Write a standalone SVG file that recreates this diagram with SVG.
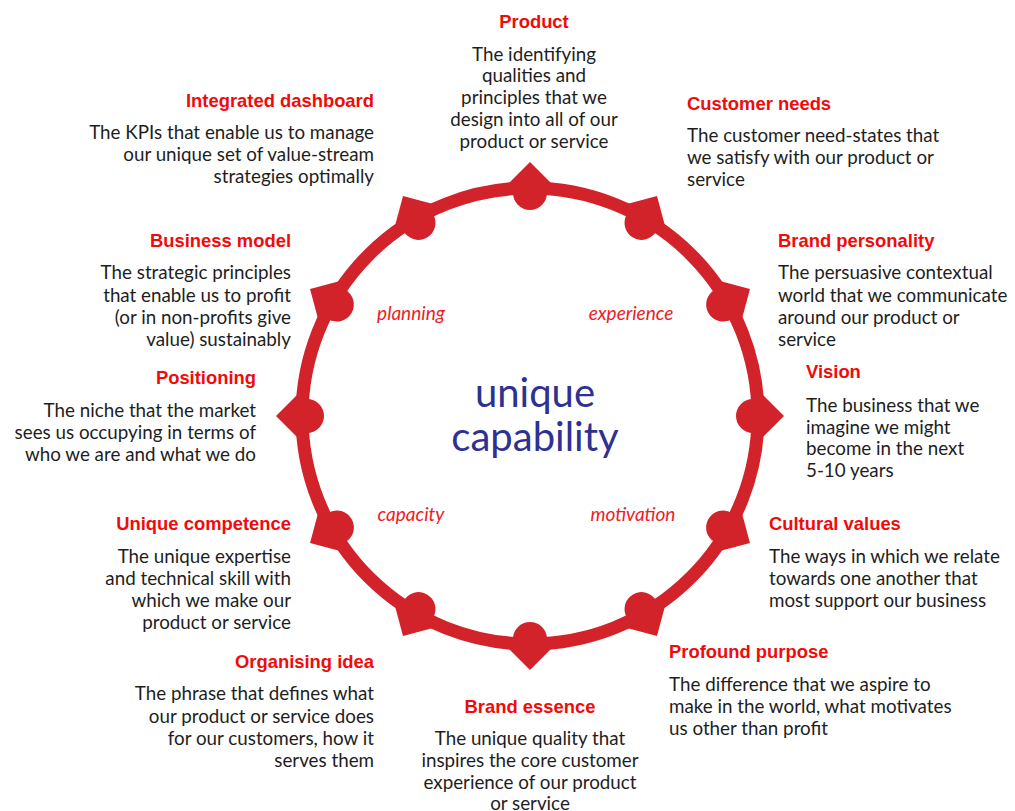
<svg xmlns="http://www.w3.org/2000/svg" width="1015" height="811" viewBox="0 0 1015 811">
  <style>
    .t { font-family: "Liberation Sans", Arial, sans-serif; font-weight: bold; font-size: 18.4px; fill: #f20a0a; }
    .b { font-family: "Lato", "Noto Sans", sans-serif; font-size: 18.8px; fill: #1e1e1e; }
    .i { font-family: "Lato", "Noto Sans", sans-serif; font-style: italic; font-size: 19px; fill: #ee1c25; }
    .c { font-family: "Lato", "Noto Sans", sans-serif; font-size: 40px; fill: #2e3192; text-anchor: middle; }
    .r { text-anchor: end; }
    .m { text-anchor: middle; }
    .ring { fill: none; stroke: #d2232a; stroke-width: 13; }
    .knot { fill: #d2232a; }
  </style>
  <defs>
    <!-- one knot on the ring: a disc plus a diamond pointing outward (drawn at the top) -->
    <g id="knot">
      <circle class="knot" cx="530" cy="193" r="17"/>
      <polygon class="knot" points="530,162 552,184 530,206 508,184"/>
    </g>
  </defs>

  <!-- connectors: the ring -->
  <g id="connectors">
    <circle class="ring" cx="530" cy="416" r="228"/>
  </g>

  <!-- knots on the ring -->
  <g id="knots">
    <use href="#knot"/>
    <use href="#knot" transform="rotate(30 530 416)"/>
    <use href="#knot" transform="rotate(60 530 416)"/>
    <use href="#knot" transform="rotate(90 530 416)"/>
    <use href="#knot" transform="rotate(120 530 416)"/>
    <use href="#knot" transform="rotate(150 530 416)"/>
    <use href="#knot" transform="rotate(180 530 416)"/>
    <use href="#knot" transform="rotate(210 530 416)"/>
    <use href="#knot" transform="rotate(240 530 416)"/>
    <use href="#knot" transform="rotate(270 530 416)"/>
    <use href="#knot" transform="rotate(300 530 416)"/>
    <use href="#knot" transform="rotate(330 530 416)"/>
  </g>

  <!-- centre -->
  <g id="centre">
    <text class="c" x="535" y="407">unique</text>
    <text class="c" x="535" y="451">capability</text>
    <text class="i m" x="411" y="320">planning</text>
    <text class="i m" x="631" y="320">experience</text>
    <text class="i m" x="411" y="521">capacity</text>
    <text class="i m" x="633" y="521">motivation</text>
  </g>

  <g id="product">
    <text class="t m" x="534" y="28">Product</text>
    <text class="b m" x="534" y="61">The identifying</text>
    <text class="b m" x="534" y="82">qualities and</text>
    <text class="b m" x="534" y="104">principles that we</text>
    <text class="b m" x="534" y="126">design into all of our</text>
    <text class="b m" x="534" y="148">product or service</text>
  </g>

  <g id="customer-needs">
    <text class="t" x="687" y="110">Customer needs</text>
    <text class="b" x="687" y="142">The customer need-states that</text>
    <text class="b" x="687" y="164">we satisfy with our product or</text>
    <text class="b" x="687" y="186">service</text>
  </g>

  <g id="brand-personality">
    <text class="t" x="778" y="247">Brand personality</text>
    <text class="b" x="778" y="279">The persuasive contextual</text>
    <text class="b" x="778" y="302">world that we communicate</text>
    <text class="b" x="778" y="324">around our product or</text>
    <text class="b" x="778" y="346">service</text>
  </g>

  <g id="vision">
    <text class="t" x="806" y="378">Vision</text>
    <text class="b" x="806" y="412">The business that we</text>
    <text class="b" x="806" y="434">imagine we might</text>
    <text class="b" x="806" y="455">become in the next</text>
    <text class="b" x="806" y="477">5-10 years</text>
  </g>

  <g id="cultural-values">
    <text class="t" x="769" y="530">Cultural values</text>
    <text class="b" x="769" y="563">The ways in which we relate</text>
    <text class="b" x="769" y="585">towards one another that</text>
    <text class="b" x="769" y="607">most support our business</text>
  </g>

  <g id="profound-purpose">
    <text class="t" x="669" y="658">Profound purpose</text>
    <text class="b" x="669" y="691">The difference that we aspire to</text>
    <text class="b" x="669" y="713">make in the world, what motivates</text>
    <text class="b" x="669" y="735">us other than profit</text>
  </g>

  <g id="brand-essence">
    <text class="t m" x="530" y="713">Brand essence</text>
    <text class="b m" x="530" y="745">The unique quality that</text>
    <text class="b m" x="530" y="767">inspires the core customer</text>
    <text class="b m" x="530" y="789">experience of our product</text>
    <text class="b m" x="530" y="810">or service</text>
  </g>

  <g id="organising-idea">
    <text class="t r" x="374" y="668">Organising idea</text>
    <text class="b r" x="374" y="700">The phrase that defines what</text>
    <text class="b r" x="374" y="723">our product or service does</text>
    <text class="b r" x="374" y="745">for our customers, how it</text>
    <text class="b r" x="374" y="767">serves them</text>
  </g>

  <g id="unique-competence">
    <text class="t r" x="291" y="530">Unique competence</text>
    <text class="b r" x="291" y="563">The unique expertise</text>
    <text class="b r" x="291" y="585">and technical skill with</text>
    <text class="b r" x="291" y="607">which we make our</text>
    <text class="b r" x="291" y="629">product or service</text>
  </g>

  <g id="positioning">
    <text class="t r" x="256" y="384">Positioning</text>
    <text class="b r" x="256" y="417">The niche that the market</text>
    <text class="b r" x="256" y="439">sees us occupying in terms of</text>
    <text class="b r" x="256" y="461">who we are and what we do</text>
  </g>

  <g id="business-model">
    <text class="t r" x="291" y="247">Business model</text>
    <text class="b r" x="291" y="279">The strategic principles</text>
    <text class="b r" x="291" y="302">that enable us to profit</text>
    <text class="b r" x="291" y="324">(or in non-profits give</text>
    <text class="b r" x="291" y="346">value) sustainably</text>
  </g>

  <g id="integrated-dashboard">
    <text class="t r" x="374" y="107">Integrated dashboard</text>
    <text class="b r" x="374" y="139">The KPIs that enable us to manage</text>
    <text class="b r" x="374" y="161">our unique set of value-stream</text>
    <text class="b r" x="374" y="183">strategies optimally</text>
  </g>
</svg>
